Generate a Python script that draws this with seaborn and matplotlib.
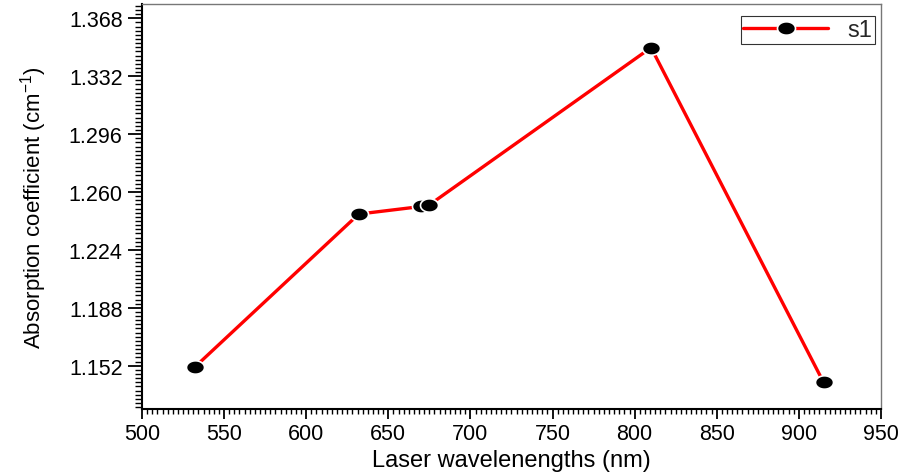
import numpy as np
import pandas as pd
import matplotlib
matplotlib.use("Agg")
import matplotlib.pyplot as plt
from matplotlib.path import Path
from matplotlib.ticker import AutoMinorLocator, FormatStrFormatter
import seaborn as sns

# Measured absorption coefficient at each laser wavelength
wavelengths_nm = [532, 632, 670, 675, 810, 915]
absorption_cm = [1.151, 1.2463, 1.251, 1.252, 1.3498, 1.1417]
series_name = "s1"

x_ticks = [500, 550, 600, 650, 700, 750, 800, 850, 900, 950]
y_ticks = [1.152, 1.188, 1.224, 1.260, 1.296, 1.332, 1.368]

sns.set_theme(style="white")
plt.rcParams["font.family"] = ["Liberation Sans", "DejaVu Sans"]
plt.rcParams["mathtext.fontset"] = "custom"
plt.rcParams["mathtext.rm"] = "Liberation Sans"

df = pd.DataFrame({"wavelength": wavelengths_nm, "alpha": absorption_cm})

fig = plt.figure(figsize=(9.02, 4.77), dpi=100)
ax = fig.add_axes([0.1574, 0.1405, 0.8193, 0.849])

# Slightly flattened round marker
t = np.linspace(0, 2 * np.pi, 60)
ellipse = Path(np.column_stack([1.35 * np.cos(t), np.sin(t)]), closed=True)

sns.lineplot(data=df, x="wavelength", y="alpha", sort=False, ax=ax,
             color="#ff0000", linewidth=2.4, marker=ellipse, markersize=13,
             markerfacecolor="black", markeredgecolor="white",
             markeredgewidth=1.2, label=series_name, errorbar=None)

ax.set_xlim(500, 950)
ax.set_ylim(1.1251, 1.3769)
ax.set_xticks(x_ticks)
ax.set_yticks(y_ticks)
ax.yaxis.set_major_formatter(FormatStrFormatter("%.3f"))
ax.xaxis.set_minor_locator(AutoMinorLocator(16))
ax.yaxis.set_minor_locator(AutoMinorLocator(14))

ax.tick_params(axis="both", which="both", direction="out", color="black")
ax.tick_params(axis="x", which="major", length=7, width=1.3, pad=3)
ax.tick_params(axis="x", which="minor", length=3.5, width=1.0)
ax.tick_params(axis="y", which="major", length=10, width=1.3, pad=4)
ax.tick_params(axis="y", which="minor", length=5, width=1.0)
ax.tick_params(axis="both", which="major", labelsize=15.5, labelcolor="black")
ax.tick_params(top=False, right=False, which="both")
ax.tick_params(bottom=True, left=True, which="both")

for side in ["left", "bottom"]:
    ax.spines[side].set_color("black")
    ax.spines[side].set_linewidth(1.5)
for side in ["top", "right"]:
    ax.spines[side].set_color("#777777")
    ax.spines[side].set_linewidth(1.0)

ax.set_xlabel("Laser wavelenengths (nm)", fontsize=17, labelpad=4, color="black")
ax.set_ylabel("Absorption coefficient (cm$^{-1}$)", fontsize=16, labelpad=14,
              color="black")

leg = ax.legend(loc="upper right", bbox_to_anchor=(1.0, 0.985), fontsize=17,
                frameon=True, fancybox=False, handlelength=3.6,
                borderpad=0.12, handletextpad=0.8, borderaxespad=0.25)
leg.get_frame().set_edgecolor("black")
leg.get_frame().set_linewidth(0.8)

fig.savefig("out.png", dpi=100)
